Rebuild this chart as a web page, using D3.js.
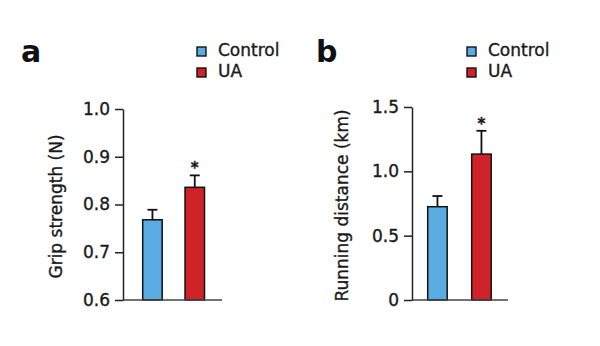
<!DOCTYPE html>
<html>
<head>
<meta charset="utf-8">
<script src="https://cdn.jsdelivr.net/npm/d3@7"></script>
<style>
  body { margin: 0; background: #fff; }
  svg text { font-family: "DejaVu Sans", sans-serif; fill: #1a1a1a; stroke: #1a1a1a; stroke-width: 0.35px; }
  .axis path, .axis line { stroke: #222; stroke-width: 1.5; }
  .axis text { font-size: 17px; }
</style>
</head>
<body>
<div id="chart"></div>
<script>
// Groups and the values for each panel
var categories = ["Control", "UA"];
var gripMean = [0.768, 0.836];
var gripErr = [0.021, 0.025];
var runMean = [0.725, 1.134];
var runErr = [0.083, 0.181];
var gripTicks = [0.6, 0.7, 0.8, 0.9, 1.0];
var runTicks = [0, 0.5, 1.0, 1.5];
var stars = ["", "*"];

var colors = { "Control": "#5aade2", "UA": "#cf2229" };

var svg = d3.select("#chart")
  .append("svg")
  .attr("width", 600)
  .attr("height", 346);

// Layout for each panel (axis position, plot size, bar band)
var panels = [
  {
    letter: "a", letterX: 21, axisX: 123, top: 109, bottom: 300, plotW: 99,
    band: [19.7, 81.5], pad: 0.54, domain: [0.6, 1.0], ticks: gripTicks,
    fmt: d3.format(".1f"), means: gripMean, errs: gripErr,
    label: "Grip strength (N)", labelX: 62, legendX: 197
  },
  {
    letter: "b", letterX: 316, axisX: 412, top: 107, bottom: 300, plotW: 96,
    band: [15.7, 79.2], pad: 0.557, domain: [0, 1.5], ticks: runTicks,
    fmt: function(d) { return d === 0 ? "0" : d3.format(".1f")(d); },
    means: runMean, errs: runErr,
    label: "Running distance (km)", labelX: 348, legendX: 467
  }
];

panels.forEach(function(p) {
  var rows = categories.map(function(c, i) {
    return { name: c, mean: p.means[i], err: p.errs[i], star: stars[i] };
  });

  var g = svg.append("g")
    .attr("transform", `translate(${p.axisX}, 0)`);

  var x = d3.scaleBand()
    .domain(categories)
    .range(p.band)
    .paddingInner(p.pad)
    .paddingOuter(0);

  var y = d3.scaleLinear()
    .domain(p.domain)
    .range([p.bottom, p.top]);

  // bars
  g.selectAll("rect.bar")
    .data(rows)
    .enter()
    .append("rect")
    .attr("class", "bar")
    .attr("x", d => x(d.name))
    .attr("y", d => y(d.mean))
    .attr("width", x.bandwidth())
    .attr("height", d => y(p.domain[0]) - y(d.mean))
    .attr("fill", d => colors[d.name])
    .attr("stroke", "#111")
    .attr("stroke-width", 1.5);

  // upper error bars with caps
  var eb = g.selectAll("g.err")
    .data(rows)
    .enter()
    .append("g")
    .attr("class", "err")
    .attr("stroke", "#111")
    .attr("stroke-width", 1.8);

  eb.append("line")
    .attr("x1", d => x(d.name) + x.bandwidth() / 2)
    .attr("x2", d => x(d.name) + x.bandwidth() / 2)
    .attr("y1", d => y(d.mean))
    .attr("y2", d => y(d.mean + d.err));

  eb.append("line")
    .attr("x1", d => x(d.name) + x.bandwidth() / 2 - 5)
    .attr("x2", d => x(d.name) + x.bandwidth() / 2 + 5)
    .attr("y1", d => y(d.mean + d.err))
    .attr("y2", d => y(d.mean + d.err));

  // significance marks
  g.selectAll("text.star")
    .data(rows)
    .enter()
    .append("text")
    .attr("class", "star")
    .attr("x", d => x(d.name) + x.bandwidth() / 2)
    .attr("y", d => y(d.mean + d.err) - 2)
    .attr("text-anchor", "middle")
    .style("font-size", "15px")
    .style("font-weight", "bold")
    .text(d => d.star);

  // baseline
  g.append("line")
    .attr("x1", 0)
    .attr("x2", p.plotW)
    .attr("y1", y(p.domain[0]))
    .attr("y2", y(p.domain[0]))
    .attr("stroke", "#444")
    .attr("stroke-width", 1.5);

  // left axis
  g.append("g")
    .attr("class", "axis")
    .call(d3.axisLeft(y)
      .tickValues(p.ticks)
      .tickFormat(p.fmt)
      .tickSize(8)
      .tickSizeOuter(0)
      .tickPadding(5));

  // axis title
  svg.append("text")
    .attr("transform", `translate(${p.labelX}, ${(p.top + p.bottom) / 2 + 2}) rotate(-90)`)
    .attr("text-anchor", "middle")
    .style("font-size", "17px")
    .text(p.label);

  // panel letter
  svg.append("text")
    .attr("x", p.letterX)
    .attr("y", 62)
    .style("font-size", "30px")
    .style("font-weight", "bold")
    .style("fill", "#111")
    .style("stroke", "none")
    .text(p.letter);

  // legend
  var leg = svg.append("g")
    .selectAll("g")
    .data(categories)
    .enter()
    .append("g")
    .attr("transform", (d, i) => `translate(${p.legendX}, ${56 + i * 21})`);

  leg.append("rect")
    .attr("x", 0)
    .attr("y", -9)
    .attr("width", 9)
    .attr("height", 9)
    .attr("fill", d => colors[d])
    .attr("stroke", "#111")
    .attr("stroke-width", 1.4);

  leg.append("text")
    .attr("x", 21)
    .attr("y", 0)
    .style("font-size", "17px")
    .text(d => d);
});
</script>
</body>
</html>
